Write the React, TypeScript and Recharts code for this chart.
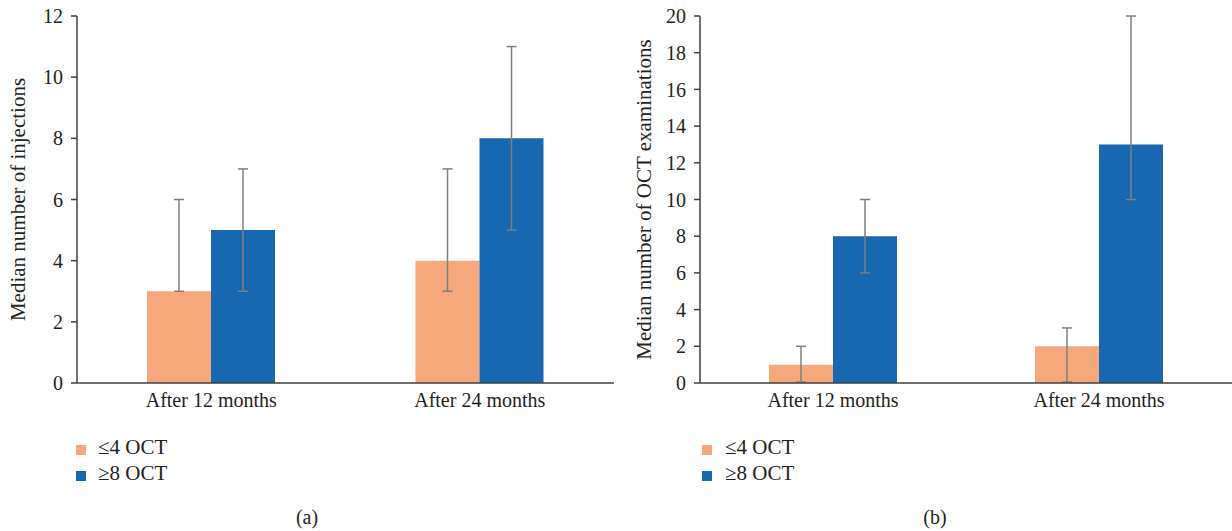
// Two grouped bar panels: median injections (a) and median OCT examinations (b)

import { Bar, BarChart, ErrorBar, Label, XAxis, YAxis } from "recharts";

const categories = ["After 12 months", "After 24 months"];
const seriesNames = ["≤4 OCT", "≥8 OCT"];

// panel (a): median number of injections
const injLow = [3, 4];
const injHigh = [5, 8];
const injLowRange = [[3, 6], [3, 7]];
const injHighRange = [[3, 7], [5, 11]];
const injTicks = [0, 2, 4, 6, 8, 10, 12];

// panel (b): median number of OCT examinations
const octLow = [1, 2];
const octHigh = [8, 13];
const octLowRange = [[0.05, 2], [0.05, 3]];
const octHighRange = [[6, 10], [10, 20]];
const octTicks = [0, 2, 4, 6, 8, 10, 12, 14, 16, 18, 20];

const ORANGE = "#f6a77b";
const BLUE = "#1767b1";
const AXIS = "#3f3f3f";
const ERR = "#7f7f7f";
const TEXT = "#231f20";
const FONT = "'Liberation Serif', 'Times New Roman', serif";

const tickStyle = { fill: TEXT, fontSize: 20, fontFamily: FONT };

function build(low: number[], high: number[], lowR: number[][], highR: number[][]) {
  return categories.map((c, i) => ({
    cat: c,
    low: low[i],
    high: high[i],
    lowErr: [low[i] - lowR[i][0], lowR[i][1] - low[i]],
    highErr: [high[i] - highR[i][0], highR[i][1] - high[i]],
  }));
}

function Panel({
  data,
  ticks,
  yLabel,
  width,
  axisWidth,
  labelX,
}: {
  data: ReturnType<typeof build>;
  ticks: number[];
  yLabel: string;
  width: number;
  axisWidth: number;
  labelX: number;
}) {
  return (
    <BarChart
      width={width}
      height={420}
      data={data}
      margin={{ top: 16, right: width === 620 ? 6 : 0, bottom: 7, left: 0 }}
      barGap={0}
    >
      <XAxis
        dataKey="cat"
        height={30}
        tickLine={false}
        axisLine={{ stroke: AXIS, strokeWidth: 1.5 }}
        tick={tickStyle}
        tickMargin={4}
        interval={0}
      />
      <YAxis
        width={axisWidth}
        domain={[0, ticks[ticks.length - 1]]}
        ticks={ticks}
        interval={0}
        axisLine={{ stroke: AXIS, strokeWidth: 1.5 }}
        tickLine={{ stroke: AXIS, strokeWidth: 1.5 }}
        tickSize={6}
        tickMargin={8}
        tick={tickStyle}
      >
        <Label
          content={(p: any) => {
            const vb = p.viewBox;
            const cx = vb.x + labelX;
            const cy = vb.y + vb.height / 2;
            return (
              <text
                x={cx}
                y={cy}
                transform={`rotate(-90 ${cx} ${cy})`}
                textAnchor="middle"
                dominantBaseline="central"
                fill={TEXT}
                fontSize={21}
                fontFamily={FONT}
              >
                {yLabel}
              </text>
            );
          }}
        />
      </YAxis>
      <Bar dataKey="low" fill={ORANGE} barSize={64} isAnimationActive={false}>
        <ErrorBar dataKey="lowErr" width={5} stroke={ERR} strokeWidth={1.5} />
      </Bar>
      <Bar dataKey="high" fill={BLUE} barSize={64} isAnimationActive={false}>
        <ErrorBar dataKey="highErr" width={5} stroke={ERR} strokeWidth={1.5} />
      </Bar>
    </BarChart>
  );
}

function LegendBlock({ left, textLeft }: { left: number; textLeft: number }) {
  const colors = [ORANGE, BLUE];
  return (
    <>
      {seriesNames.map((n, i) => (
        <div key={n}>
          <div
            style={{
              position: "absolute",
              left,
              top: 445 + i * 26,
              width: 10,
              height: 10,
              background: colors[i],
            }}
          />
          <div
            style={{
              position: "absolute",
              left: textLeft,
              top: 436 + i * 26,
              fontSize: 21,
              lineHeight: "22px",
              color: TEXT,
              whiteSpace: "nowrap",
            }}
          >
            {n}
          </div>
        </div>
      ))}
    </>
  );
}

export default function App() {
  const a = build(injLow, injHigh, injLowRange, injHighRange);
  const b = build(octLow, octHigh, octLowRange, octHighRange);
  return (
    <div
      style={{
        position: "absolute",
        left: 0,
        top: 0,
        width: 1232,
        height: 531,
        background: "#fff",
        fontFamily: FONT,
      }}
    >
      <div style={{ position: "absolute", left: 0, top: 0 }}>
        <Panel data={a} ticks={injTicks} yLabel="Median number of injections" width={620} axisWidth={77} labelX={18} />
      </div>
      <div style={{ position: "absolute", left: 620, top: 0 }}>
        <Panel data={b} ticks={octTicks} yLabel="Median number of OCT examinations" width={612} axisWidth={80} labelX={24} />
      </div>
      <LegendBlock left={76} textLeft={98} />
      <LegendBlock left={702} textLeft={725} />
      <div style={{ position: "absolute", left: 307, top: 506, transform: "translateX(-50%)", fontSize: 20, color: TEXT }}>
        (a)
      </div>
      <div style={{ position: "absolute", left: 935, top: 506, transform: "translateX(-50%)", fontSize: 20, color: TEXT }}>
        (b)
      </div>
    </div>
  );
}
